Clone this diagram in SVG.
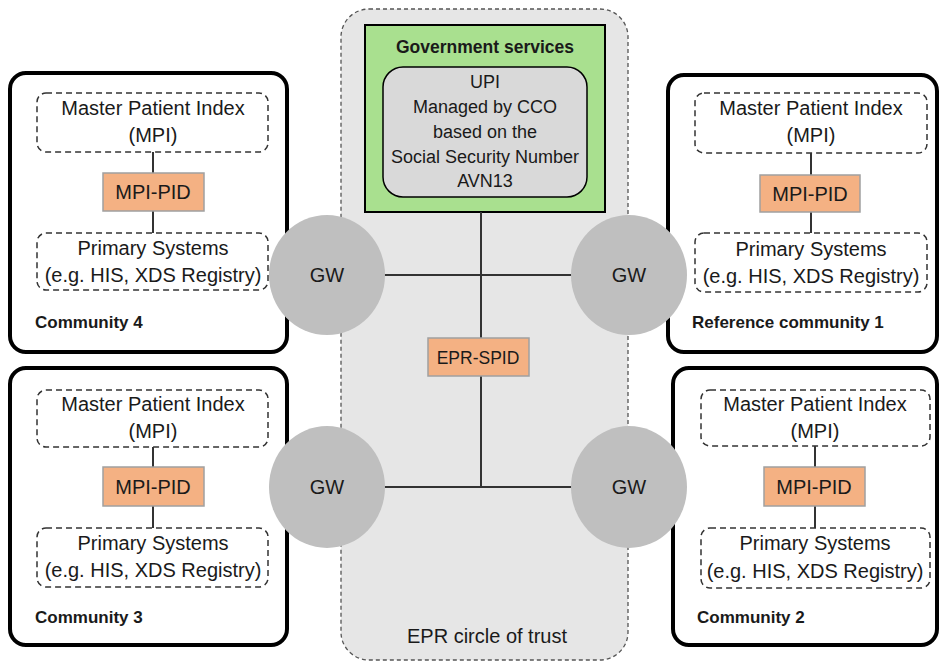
<svg xmlns="http://www.w3.org/2000/svg" width="939" height="662" viewBox="0 0 939 662">
<style>
text{font-family:"Liberation Sans",Arial,sans-serif;fill:#1a1a1a}
.t{font-size:20px;text-anchor:middle}
.u{font-size:18px;text-anchor:middle}
.lbl{font-size:17px;font-weight:bold}
.com{fill:#fff;stroke:#000;stroke-width:4}
.dash{fill:#fff;stroke:#333;stroke-width:1.5;stroke-dasharray:6 4}
.pid{fill:#f4b183;stroke:#a0a0a0;stroke-width:1.5}
.gw{fill:#bfbfbf}
.ln{stroke:#333;stroke-width:2;fill:none}
</style>
<g id="trust">
<rect x="341" y="9" width="287" height="651" rx="28" fill="#e6e6e6" stroke="#555" stroke-width="1.3" stroke-dasharray="4 3"/>
<text class="t" x="487" y="643">EPR circle of trust</text>
</g>
<g id="gov">
<rect x="365" y="25" width="240" height="187" fill="#a9e08f" stroke="#000" stroke-width="2"/>
<text x="485" y="53" font-size="17.5" font-weight="bold" text-anchor="middle">Government services</text>
</g>
<g id="upi">
<rect x="383" y="67" width="204" height="130" rx="20" fill="#d9d9d9" stroke="#000" stroke-width="1.5"/>
<text class="u" x="485" y="88">UPI</text>
<text class="u" x="485" y="113">Managed by CCO</text>
<text class="u" x="485" y="138">based on the</text>
<text class="u" x="485" y="163">Social Security Number</text>
<text class="u" x="485" y="187">AVN13</text>
</g>
<g id="community4">
<rect class="com" x="10" y="73" width="277" height="279" rx="16"/>
<rect class="dash" x="37" y="93" width="231" height="59" rx="9"/>
<text class="t" x="153" y="115">Master Patient Index</text>
<text class="t" x="153" y="142">(MPI)</text>
<line class="ln" x1="153" y1="152" x2="153" y2="233"/>
<rect class="pid" x="103" y="173" width="101" height="38"/>
<text class="t" x="153" y="199">MPI-PID</text>
<rect class="dash" x="37" y="233" width="231" height="57" rx="9"/>
<text class="t" x="153" y="255">Primary Systems</text>
<text class="t" x="153" y="282">(e.g. HIS, XDS Registry)</text>
<text class="lbl" x="35" y="328">Community 4</text>
</g>
<g id="community1">
<rect class="com" x="668" y="75" width="269" height="277" rx="16"/>
<rect class="dash" x="695" y="93" width="232" height="60" rx="9"/>
<text class="t" x="811" y="115">Master Patient Index</text>
<text class="t" x="811" y="142">(MPI)</text>
<line class="ln" x1="811" y1="153" x2="811" y2="233"/>
<rect class="pid" x="760" y="175" width="100" height="37"/>
<text class="t" x="810" y="201">MPI-PID</text>
<rect class="dash" x="695" y="233" width="232" height="59" rx="9"/>
<text class="t" x="811" y="256">Primary Systems</text>
<text class="t" x="811" y="283">(e.g. HIS, XDS Registry)</text>
<text class="lbl" x="692" y="328">Reference community 1</text>
</g>
<g id="community3">
<rect class="com" x="10" y="368" width="277" height="277" rx="16"/>
<rect class="dash" x="37" y="390" width="231" height="57" rx="9"/>
<text class="t" x="153" y="411">Master Patient Index</text>
<text class="t" x="153" y="438">(MPI)</text>
<line class="ln" x1="153" y1="447" x2="153" y2="528"/>
<rect class="pid" x="103" y="467" width="101" height="39"/>
<text class="t" x="153" y="494">MPI-PID</text>
<rect class="dash" x="37" y="528" width="231" height="59" rx="9"/>
<text class="t" x="153" y="550">Primary Systems</text>
<text class="t" x="153" y="577">(e.g. HIS, XDS Registry)</text>
<text class="lbl" x="35" y="623">Community 3</text>
</g>
<g id="community2">
<rect class="com" x="673" y="368" width="264" height="277" rx="16"/>
<rect class="dash" x="701" y="390" width="229" height="56" rx="9"/>
<text class="t" x="815" y="411">Master Patient Index</text>
<text class="t" x="815" y="438">(MPI)</text>
<line class="ln" x1="815" y1="446" x2="815" y2="528"/>
<rect class="pid" x="764" y="467" width="101" height="39"/>
<text class="t" x="814" y="494">MPI-PID</text>
<rect class="dash" x="701" y="528" width="229" height="60" rx="9"/>
<text class="t" x="815" y="550">Primary Systems</text>
<text class="t" x="815" y="578">(e.g. HIS, XDS Registry)</text>
<text class="lbl" x="697" y="623">Community 2</text>
</g>
<g id="connectors">
<line class="ln" x1="481" y1="212" x2="481" y2="487"/>
<line class="ln" x1="380" y1="275" x2="580" y2="275"/>
<line class="ln" x1="380" y1="487" x2="580" y2="487"/>
</g>
<g id="eprspid">
<rect class="pid" x="428" y="338" width="101" height="38"/>
<text x="478" y="364" font-size="17.5" text-anchor="middle">EPR-SPID</text>
</g>
<g id="gw4"><ellipse class="gw" cx="327" cy="275" rx="58" ry="60"/><text class="t" x="327" y="282">GW</text></g>
<g id="gw1"><ellipse class="gw" cx="629" cy="275" rx="58" ry="60"/><text class="t" x="629" y="282">GW</text></g>
<g id="gw3"><ellipse class="gw" cx="327" cy="487" rx="58" ry="61"/><text class="t" x="327" y="494">GW</text></g>
<g id="gw2"><ellipse class="gw" cx="629" cy="487" rx="58" ry="61"/><text class="t" x="629" y="494">GW</text></g>
</svg>
